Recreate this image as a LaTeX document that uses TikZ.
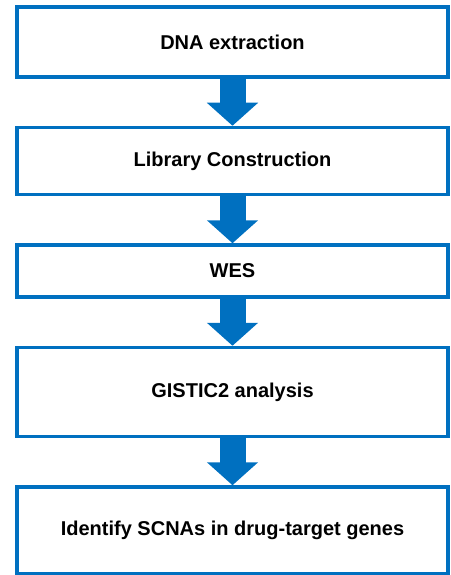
\documentclass[tikz,border=0pt]{standalone}
\usepackage{fontspec}
\setmainfont{Liberation Sans}
\usetikzlibrary{positioning,arrows.meta}
\definecolor{flowblue}{HTML}{0070C0}

\begin{document}
\begin{tikzpicture}[node distance=47pt]

\tikzstyle{stepbox} = [rectangle, minimum width=431pt, text centered, draw=flowblue, line width=3.5pt, font=\fontsize{20}{24}\selectfont\bfseries]
\tikzstyle{flow} = [draw=flowblue, line width=26pt, -{Triangle[width=50pt,length=23pt]}]
\useasboundingbox (0,0) rectangle (450pt,-575pt);
\node (dna) [stepbox, minimum height=70pt] at (232.5pt,-42pt) {DNA extraction};
\node (lib) [stepbox, minimum height=67pt, below=of dna] {Library Construction};
\node (wes) [stepbox, minimum height=52pt, below=of lib] {WES};
\node (gistic) [stepbox, minimum height=89pt, below=of wes] {GISTIC2 analysis};
\node (scna) [stepbox, minimum height=87pt, below=of gistic] {Identify SCNAs in drug-target genes};
\draw[flow] (dna)--(lib);
\draw[flow] (lib)--(wes);
\draw[flow] (wes)--(gistic);
\draw[flow] (gistic)--(scna);
\end{tikzpicture}
\end{document}
